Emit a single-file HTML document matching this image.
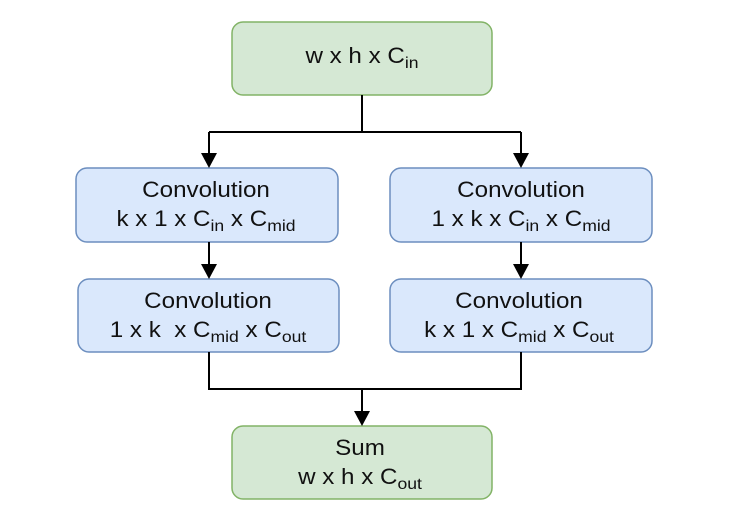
<!DOCTYPE html>
<html><head><meta charset="utf-8"><style>
html,body{margin:0;padding:0;background:#fff;}
svg{display:block;}
text{font-family:"Liberation Sans",sans-serif;font-size:22px;fill:#111;}
.s{font-size:16px;}
</style></head><body>
<svg width="734" height="520" viewBox="0 0 734 520" xmlns="http://www.w3.org/2000/svg">
<g fill="#d5e8d4" stroke="#82b366" stroke-width="1.5">
<rect x="232" y="22" width="260" height="73" rx="11"/>
<rect x="232" y="426" width="260" height="73" rx="11"/>
</g>
<g fill="#dae8fc" stroke="#6c8ebf" stroke-width="1.5">
<rect x="76" y="168" width="262" height="74" rx="11"/>
<rect x="390" y="168" width="262" height="74" rx="11"/>
<rect x="78" y="279" width="261" height="73" rx="11"/>
<rect x="390" y="279" width="262" height="73" rx="11"/>
</g>
<g stroke="#000" stroke-width="2" fill="none">
<path d="M362 95 V132 M209 132 H521 M209 132 V156 M521 132 V156"/>
<path d="M209 242 V267 M521 242 V267"/>
<path d="M209 352 V389 H521 V352 M362 389 V414"/>
</g>
<g fill="#000">
<path d="M201 153 L217 153 L209 168 Z"/>
<path d="M513 153 L529 153 L521 168 Z"/>
<path d="M201 264 L217 264 L209 279 Z"/>
<path d="M513 264 L529 264 L521 279 Z"/>
<path d="M354 411 L370 411 L362 426 Z"/>
</g>
<g text-anchor="middle">
<text transform="translate(362,63) scale(1.1,1)">w x h x C<tspan class="s" dy="5">in</tspan></text>
<text transform="translate(206,197) scale(1.1,1)">Convolution</text>
<text transform="translate(206,226) scale(1.1,1)">k x 1 x C<tspan class="s" dy="5">in</tspan><tspan dy="-5"> x C</tspan><tspan class="s" dy="5">mid</tspan></text>
<text transform="translate(521,197) scale(1.1,1)">Convolution</text>
<text transform="translate(521,226) scale(1.1,1)">1 x k x C<tspan class="s" dy="5">in</tspan><tspan dy="-5"> x C</tspan><tspan class="s" dy="5">mid</tspan></text>
<text transform="translate(208,308) scale(1.1,1)">Convolution</text>
<text transform="translate(208,337) scale(1.1,1)">1 x k &#160;x C<tspan class="s" dy="5">mid</tspan><tspan dy="-5"> x C</tspan><tspan class="s" dy="5">out</tspan></text>
<text transform="translate(519,308) scale(1.1,1)">Convolution</text>
<text transform="translate(519,337) scale(1.1,1)">k x 1 x C<tspan class="s" dy="5">mid</tspan><tspan dy="-5"> x C</tspan><tspan class="s" dy="5">out</tspan></text>
<text transform="translate(360,455) scale(1.1,1)">Sum</text>
<text transform="translate(360,484) scale(1.1,1)">w x h x C<tspan class="s" dy="5">out</tspan></text>
</g>
</svg>
</body></html>
